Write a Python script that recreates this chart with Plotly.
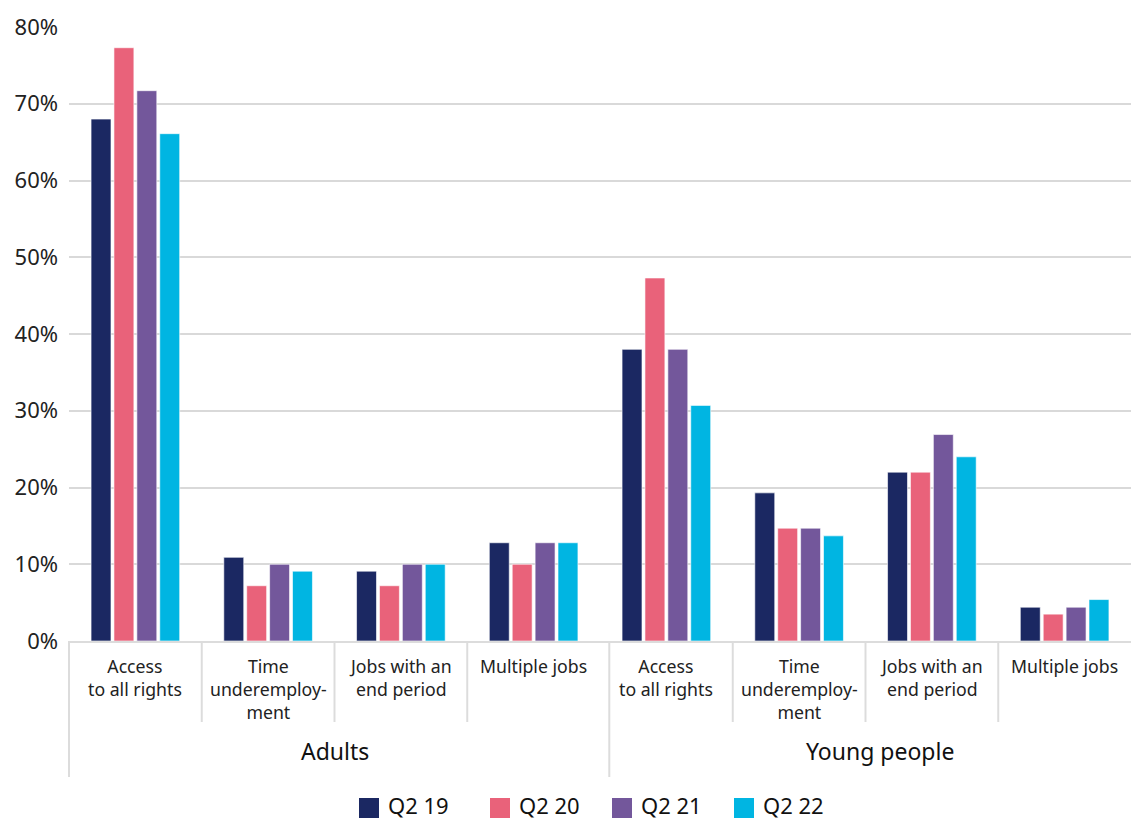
import plotly.graph_objects as go

groups = ["Adults", "Young people"]
subcats = ["Access<br>to all rights", "Time<br>underemploy-<br>ment", "Jobs with an<br>end period", "Multiple jobs"]
series_names = ["Q2 19", "Q2 20", "Q2 21", "Q2 22"]
colors = ["#1b2862", "#e9627a", "#73579b", "#00b5e2"]

# values in %, order: Adults x4 subcats, Young people x4 subcats
q2_19 = [68.0, 10.9, 9.1, 12.8, 38.0, 19.3, 22.0, 4.4]
q2_20 = [77.3, 7.2, 7.2, 10.0, 47.3, 14.7, 22.0, 3.5]
q2_21 = [71.7, 10.0, 10.0, 12.8, 38.0, 14.7, 26.9, 4.4]
q2_22 = [66.1, 9.1, 10.0, 12.8, 30.7, 13.7, 24.0, 5.4]
series_values = [q2_19, q2_20, q2_21, q2_22]

W, H = 1137, 820
L, R, T, B = 69, 6, 27, 179
pw, ph = W - L - R, H - T - B

def py(p):  # pixel y -> paper
    return (H - B - p) / ph

def px(p):  # pixel x -> paper
    return (p - L) / pw

ncat = len(groups) * len(subcats)
xs = list(range(ncat))

fig = go.Figure()
for name, vals, col in zip(series_names, series_values, colors):
    fig.add_trace(go.Bar(x=xs, y=vals, name=name,
                         marker=dict(color=col, line=dict(color="rgba(255,255,255,0.6)", width=1)),
                         showlegend=False))

shapes = []
annotations = []
# dividers
for i in range(1, ncat):
    if i == len(subcats):
        x0 = i - 0.5 + 0.07
        y1 = py(777)
    else:
        x0 = i - 0.5
        y1 = py(722)
    shapes.append(dict(type="line", xref="x", yref="paper", x0=x0, x1=x0, y0=0, y1=y1,
                       line=dict(color="#dcdcdc", width=2)))
shapes.append(dict(type="line", xref="paper", yref="paper", x0=0, x1=0, y0=0, y1=py(777),
                   line=dict(color="#dcdcdc", width=2)))

for gi, g in enumerate(groups):
    for si, s in enumerate(subcats):
        annotations.append(dict(x=gi * len(subcats) + si, y=py(652), xref="x", yref="paper",
                                text=s, showarrow=False, yanchor="top", xanchor="center",
                                font=dict(size=17.7, color="#222222", family="Noto Sans")))
    gx = (len(subcats) - 1) / 2 if gi == 0 else len(subcats) + (len(subcats) - 1) / 2 + 0.11
    annotations.append(dict(x=gx, y=py(751), xref="x", yref="paper",
                            text=g, showarrow=False, yanchor="middle", xanchor="center",
                            font=dict(size=23, color="#111111", family="Noto Sans")))

# legend (drawn)
leg_x = [359, 490, 612, 734]
for lx, name, col in zip(leg_x, series_names, colors):
    shapes.append(dict(type="rect", xref="paper", yref="paper", x0=px(lx), x1=px(lx + 20),
                       y0=py(818), y1=py(798), fillcolor=col, line=dict(width=0)))
    annotations.append(dict(x=px(lx + 27), y=py(805), xref="paper", yref="paper", text=name,
                            showarrow=False, xanchor="left", yanchor="middle",
                            font=dict(size=22, color="#111111", family="Noto Sans")))

fig.update_layout(
    width=W, height=H,
    margin=dict(l=L, r=R, t=T, b=B, pad=0),
    paper_bgcolor="white", plot_bgcolor="white",
    barmode="group", bargap=0.31, bargroupgap=0.13,
    font=dict(family="Noto Sans", color="#222222"),
    shapes=shapes, annotations=annotations,
    showlegend=False,
)
fig.update_xaxes(range=[-0.5, ncat - 0.5], showticklabels=False, showgrid=False, zeroline=False,
                 showline=True, linecolor="#dcdcdc", linewidth=2, ticks="")
fig.update_yaxes(range=[0, 80], dtick=10, ticksuffix="%", showgrid=True, gridcolor="#d9d9d9", gridwidth=2,
                 zeroline=False, showline=False, tickfont=dict(size=22, color="#222222", family="Noto Sans"),
                 ticklabelstandoff=10)

fig.write_html("out.html")
